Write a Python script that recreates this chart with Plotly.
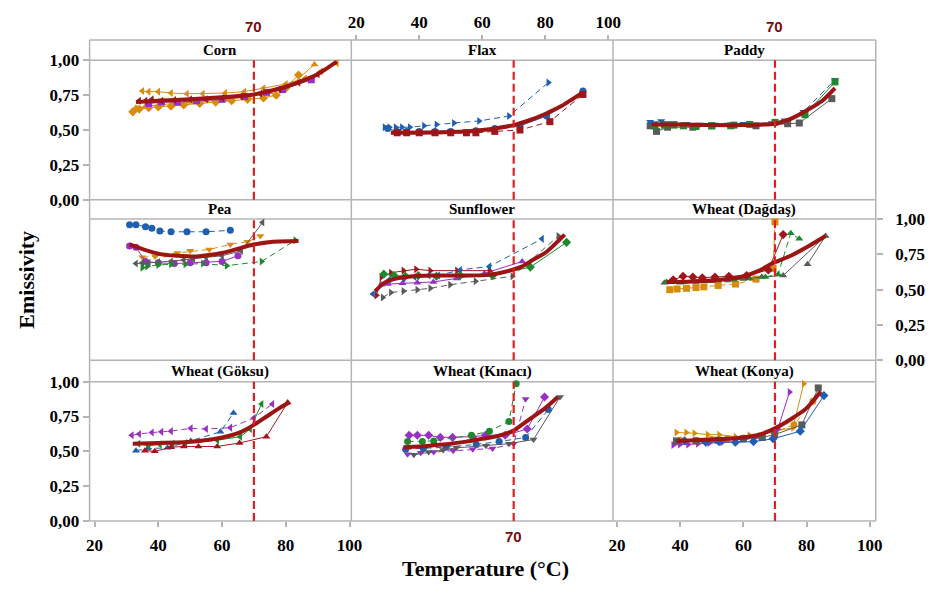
import plotly.graph_objects as go

W, H = 933, 593

# ---------------- data ----------------
REF_TEMP = 70
X_TICKS = [20, 40, 60, 80, 100]
X_TICK_TEXT = ["20", "40", "60", "80", "100"]
Y_TICKS = [0, 0.25, 0.5, 0.75, 1.0]
Y_TICK_TEXT = ["0,00", "0,25", "0,50", "0,75", "1,00"]
PANELS = ["Corn", "Flax", "Paddy", "Pea", "Sunflower", "Wheat (Dağdaş)",
          "Wheat (Göksu)", "Wheat (Kınacı)", "Wheat (Konya)"]

# Corn
CORN_A_X = [35, 37, 40, 44, 49, 54, 61, 67, 73, 80, 86, 91, 96]
CORN_A_Y = [0.78, 0.775, 0.775, 0.765, 0.76, 0.76, 0.765, 0.775, 0.80, 0.83, 0.87, 0.92, 0.98]
CORN_B_X = [32, 34, 37, 40, 44, 48, 53, 58, 63, 68, 73, 77, 80, 84]
CORN_B_Y = [0.63, 0.65, 0.66, 0.665, 0.67, 0.68, 0.69, 0.70, 0.71, 0.72, 0.73, 0.75, 0.80, 0.895]
CORN_C_X = [33, 36, 40, 45, 50, 55, 62, 68, 75, 82, 89]
CORN_C_Y = [0.66, 0.67, 0.68, 0.69, 0.70, 0.71, 0.72, 0.74, 0.77, 0.83, 0.97]
CORN_D_X = [34, 36, 38, 41, 45, 50, 55, 60, 66, 72, 78, 84, 90]
CORN_D_Y = [0.71, 0.71, 0.72, 0.71, 0.715, 0.72, 0.72, 0.73, 0.74, 0.76, 0.79, 0.84, 0.90]
CORN_E_X = [37, 41, 46, 52, 60, 67, 74, 79, 88]
CORN_E_Y = [0.69, 0.70, 0.70, 0.71, 0.72, 0.74, 0.77, 0.79, 0.86]
CORN_FIT_X = [33, 40, 50, 60, 70, 75, 80, 85, 90, 96]
CORN_FIT_Y = [0.70, 0.71, 0.72, 0.735, 0.755, 0.78, 0.81, 0.85, 0.90, 0.99]

# Flax
FLAX_A_X = [29, 30.5, 32.5, 34.5, 37, 41.5, 45.5, 51, 59, 68.5, 81]
FLAX_A_Y = [0.52, 0.52, 0.52, 0.52, 0.52, 0.53, 0.54, 0.55, 0.565, 0.60, 0.84]
FLAX_B_X = [30, 33, 36, 40, 45, 50, 58, 64, 72, 80.5, 92]
FLAX_B_Y = [0.51, 0.49, 0.49, 0.49, 0.49, 0.49, 0.495, 0.51, 0.53, 0.60, 0.78]
FLAX_C_X = [33, 36, 40, 45, 50, 55, 58, 64, 72, 81.5, 92]
FLAX_C_Y = [0.48, 0.48, 0.48, 0.48, 0.48, 0.48, 0.48, 0.49, 0.50, 0.56, 0.755]
FLAX_FIT_X = [31, 40, 50, 60, 65, 70, 75, 80, 85, 92]
FLAX_FIT_Y = [0.48, 0.48, 0.485, 0.50, 0.515, 0.535, 0.57, 0.615, 0.67, 0.77]

# Paddy
PADDY_A_X = [30.5, 32, 34, 36, 38, 42, 46, 51, 55, 60, 69, 73, 79, 89]
PADDY_A_Y = [0.56, 0.55, 0.565, 0.55, 0.55, 0.545, 0.54, 0.54, 0.54, 0.545, 0.55, 0.57, 0.63, 0.86]
PADDY_B_X = [32, 35, 38, 41, 45, 50, 56, 62, 70, 79.5, 89]
PADDY_B_Y = [0.53, 0.535, 0.535, 0.53, 0.525, 0.53, 0.53, 0.54, 0.555, 0.61, 0.845]
PADDY_C_X = [30.5, 32.5, 36, 44, 50, 57, 64, 74, 77.7, 88]
PADDY_C_Y = [0.53, 0.49, 0.52, 0.52, 0.53, 0.535, 0.53, 0.545, 0.55, 0.725]
PADDY_FIT_X = [31, 40, 50, 60, 70, 75, 80, 85, 89]
PADDY_FIT_Y = [0.54, 0.54, 0.535, 0.535, 0.545, 0.58, 0.64, 0.71, 0.80]

# Pea
PEA_A_X = [31, 33, 36, 38, 40.5, 44, 49, 55, 62.6]
PEA_A_Y = [0.96, 0.96, 0.945, 0.935, 0.915, 0.91, 0.91, 0.91, 0.92]
PEA_B_X = [35, 39, 42, 46, 50, 56, 62.6, 68, 72]
PEA_B_Y = [0.73, 0.735, 0.75, 0.76, 0.775, 0.785, 0.82, 0.84, 0.88]
PEA_C_X = [33, 35, 37, 40, 44, 48, 51, 55, 60, 66, 72.7]
PEA_C_Y = [0.685, 0.69, 0.69, 0.695, 0.70, 0.71, 0.72, 0.73, 0.74, 0.775, 0.975]
PEA_D_X = [31, 33, 36, 40, 45, 50, 55, 60, 65]
PEA_D_Y = [0.81, 0.80, 0.70, 0.69, 0.685, 0.69, 0.69, 0.70, 0.74]
PEA_E_X = [35, 36.5, 40, 44, 48.5, 54, 61.5, 72.4, 83]
PEA_E_Y = [0.655, 0.665, 0.675, 0.68, 0.68, 0.685, 0.67, 0.70, 0.85]
PEA_FIT_X = [31, 36, 41, 46, 52, 56, 60, 65, 69, 76, 84]
PEA_FIT_Y = [0.82, 0.78, 0.75, 0.74, 0.735, 0.745, 0.76, 0.79, 0.815, 0.84, 0.845]

# Sunflower
SUN_A_X = [26.4, 28, 31, 35, 39, 43.5, 52, 62.3]
SUN_A_Y = [0.46, 0.59, 0.62, 0.635, 0.645, 0.635, 0.635, 0.635]
SUN_B_X = [25.3, 30.5, 35, 38.5, 43, 46, 53, 62.3, 79]
SUN_B_Y = [0.47, 0.57, 0.58, 0.59, 0.60, 0.60, 0.64, 0.665, 0.86]
SUN_C_X = [28.75, 32, 35.6, 39.7, 45.5, 53, 63.3, 75.3, 86.8]
SUN_C_Y = [0.61, 0.60, 0.595, 0.60, 0.595, 0.60, 0.60, 0.66, 0.835]
SUN_D_X = [28, 30, 34.7, 39.4, 44.5, 51.9, 60.7, 72.7]
SUN_D_Y = [0.535, 0.54, 0.545, 0.55, 0.555, 0.58, 0.615, 0.70]
SUN_E_X = [28.4, 31, 35, 39.4, 43.5, 49.8, 57.9, 69.6, 84.2]
SUN_E_Y = [0.445, 0.48, 0.49, 0.50, 0.51, 0.535, 0.56, 0.595, 0.88]
SUN_FIT_X = [26, 29, 33, 38, 43.5, 53, 62.3, 67, 72.7, 76, 80, 83, 86.2]
SUN_FIT_Y = [0.49, 0.55, 0.58, 0.595, 0.60, 0.60, 0.605, 0.625, 0.665, 0.71, 0.76, 0.82, 0.89]

# Wheat (Dağdaş)
DAG_A_X = [37.8, 40.9, 44, 47, 51, 55.4, 61, 67.9, 72.6]
DAG_A_Y = [0.57, 0.595, 0.59, 0.585, 0.59, 0.595, 0.60, 0.64, 0.89]
DAG_B_X = [35.7, 38, 41, 44, 48, 52, 57, 62, 67, 71, 75, 77.7]
DAG_B_Y = [0.555, 0.56, 0.555, 0.56, 0.56, 0.565, 0.57, 0.58, 0.59, 0.61, 0.90, 0.86]
DAG_C_X = [36.7, 39, 42, 45, 47.5, 52, 57.5, 64, 69.4, 70]
DAG_C_Y = [0.50, 0.505, 0.51, 0.515, 0.52, 0.53, 0.54, 0.575, 0.65, 0.98]
DAG_D_X = [35, 40, 45, 50, 55, 60, 65.8, 72.6, 86, 80.3]
DAG_D_Y = [0.55, 0.55, 0.555, 0.56, 0.565, 0.575, 0.59, 0.60, 0.88, 0.68]
DAG_FIT_X = [35.7, 40, 45, 50, 55, 60, 65, 69, 75, 80, 86]
DAG_FIT_Y = [0.555, 0.555, 0.56, 0.565, 0.575, 0.595, 0.635, 0.685, 0.74, 0.80, 0.88]

# Wheat (Göksu)
GOK_A_X = [31.7, 34, 38, 41, 44, 50.2, 55, 62.6, 70, 75.8]
GOK_A_Y = [0.615, 0.625, 0.635, 0.64, 0.645, 0.665, 0.66, 0.67, 0.74, 0.84]
GOK_B_X = [33.8, 37, 40.5, 44.5, 48.5, 58.5, 65.7, 68.8, 72.4]
GOK_B_Y = [0.555, 0.54, 0.55, 0.555, 0.56, 0.58, 0.605, 0.66, 0.84]
GOK_C_X = [33, 36.7, 42.9, 50.2, 59.5, 63.6]
GOK_C_Y = [0.505, 0.52, 0.525, 0.575, 0.64, 0.775]
GOK_D_X = [35.8, 38.9, 44, 48, 52.6, 58.5, 65.5, 73.9, 80.6]
GOK_D_Y = [0.505, 0.50, 0.53, 0.535, 0.535, 0.535, 0.56, 0.605, 0.85]
GOK_FIT_X = [32, 40, 48, 53, 58, 62, 66, 70, 74, 78, 81]
GOK_FIT_Y = [0.555, 0.56, 0.565, 0.575, 0.59, 0.61, 0.64, 0.69, 0.75, 0.81, 0.85]

# Wheat (Kınacı)
KIN_A_X = [36.8, 39.4, 43, 46.7, 50.6, 57, 61, 67.3, 74.3, 79.8]
KIN_A_Y = [0.615, 0.615, 0.615, 0.60, 0.60, 0.605, 0.615, 0.615, 0.66, 0.89]
KIN_B_X = [36.3, 41, 44.6, 56.6, 62.3, 68.5, 70.8]
KIN_B_Y = [0.57, 0.57, 0.575, 0.615, 0.645, 0.715, 0.985]
KIN_C_X = [36.3, 40.5, 44.6, 50.8, 57, 63.3, 70, 73.8]
KIN_C_Y = [0.48, 0.49, 0.495, 0.505, 0.515, 0.52, 0.555, 0.875]
KIN_D_X = [35.7, 41.3, 48.5, 58.1, 65.4, 73.8, 81]
KIN_D_Y = [0.515, 0.52, 0.53, 0.55, 0.57, 0.60, 0.80]
KIN_E_X = [38.3, 43, 47.6, 51.8, 61.2, 68.5, 76.3, 84.7]
KIN_E_Y = [0.475, 0.495, 0.51, 0.525, 0.54, 0.555, 0.585, 0.89]
KIN_FIT_X = [35, 40, 45, 50, 55, 60, 65, 70, 75, 80, 84]
KIN_FIT_Y = [0.53, 0.535, 0.545, 0.555, 0.57, 0.59, 0.61, 0.65, 0.73, 0.81, 0.89]

# Wheat (Konya)
KON_A_X = [38.8, 41.9, 44.5, 48.7, 52.3, 57.5, 61.9, 69.9, 75.7, 79.1]
KON_A_Y = [0.635, 0.635, 0.63, 0.62, 0.62, 0.605, 0.615, 0.645, 0.67, 0.985]
KON_B_X = [37.8, 39.9, 42.5, 45.6, 49.2, 53.3, 57.5, 63.7, 70.9, 74.6]
KON_B_Y = [0.545, 0.55, 0.55, 0.555, 0.56, 0.565, 0.565, 0.60, 0.66, 0.925]
KON_C_X = [41.4, 48.1, 52.3, 57.5, 63.2, 69.4, 78, 85.5]
KON_C_Y = [0.575, 0.565, 0.57, 0.565, 0.57, 0.59, 0.645, 0.90]
KON_D_X = [38.8, 45, 52, 60, 66, 69.9, 78.5, 83.7]
KON_D_Y = [0.575, 0.575, 0.58, 0.59, 0.60, 0.62, 0.69, 0.955]
KON_E_X = [40, 45, 50, 55, 60, 65, 70, 76, 82]
KON_E_Y = [0.58, 0.58, 0.585, 0.59, 0.595, 0.61, 0.64, 0.69, 0.86]
KON_FIT_X = [38.8, 45, 50, 55, 60, 65, 70, 75, 80, 84.5]
KON_FIT_Y = [0.575, 0.58, 0.585, 0.59, 0.60, 0.62, 0.665, 0.73, 0.81, 0.93]

# ---------------- styles ----------------
BLUE = "#1f5fb0"
DRED = "#a0161c"
ORANGE = "#d98c0c"
PURPLE = "#9a2fc6"
GREY = "#5b5b5b"
GREEN = "#1c8a2c"
FITC = "#9c1414"
FRAME = "#b4b4b4"
DASHED = "6px,4px"

# (panel, x, y, color, symbol, dash)
SERIES = [
    (0, CORN_B_X, CORN_B_Y, ORANGE, "diamond", "solid"),
    (0, CORN_C_X, CORN_C_Y, ORANGE, "triangle-up", "solid"),
    (0, CORN_A_X, CORN_A_Y, ORANGE, "triangle-left", "solid"),
    (0, CORN_E_X, CORN_E_Y, PURPLE, "square", "solid"),
    (0, CORN_D_X, CORN_D_Y, DRED, "triangle-left", "solid"),
    (1, FLAX_A_X, FLAX_A_Y, BLUE, "triangle-right", DASHED),
    (1, FLAX_B_X, FLAX_B_Y, BLUE, "circle", "solid"),
    (1, FLAX_C_X, FLAX_C_Y, DRED, "square", DASHED),
    (2, PADDY_C_X, PADDY_C_Y, GREY, "square", "solid"),
    (2, PADDY_A_X, PADDY_A_Y, BLUE, "triangle-down", DASHED),
    (2, PADDY_B_X, PADDY_B_Y, GREEN, "square", "solid"),
    (3, PEA_A_X, PEA_A_Y, BLUE, "circle", DASHED),
    (3, PEA_B_X, PEA_B_Y, ORANGE, "triangle-down", DASHED),
    (3, PEA_D_X, PEA_D_Y, PURPLE, "circle", "solid"),
    (3, PEA_C_X, PEA_C_Y, GREY, "triangle-left", "solid"),
    (3, PEA_E_X, PEA_E_Y, GREEN, "triangle-right", DASHED),
    (4, SUN_E_X, SUN_E_Y, GREY, "triangle-right", DASHED),
    (4, SUN_D_X, SUN_D_Y, PURPLE, "triangle-up", "solid"),
    (4, SUN_A_X, SUN_A_Y, DRED, "triangle-right", "solid"),
    (4, SUN_B_X, SUN_B_Y, BLUE, "triangle-left", DASHED),
    (4, SUN_C_X, SUN_C_Y, GREEN, "diamond", "solid"),
    (5, DAG_C_X, DAG_C_Y, ORANGE, "square", DASHED),
    (5, DAG_D_X, DAG_D_Y, GREY, "triangle-up", "solid"),
    (5, DAG_B_X, DAG_B_Y, GREEN, "triangle-up", DASHED),
    (5, DAG_A_X, DAG_A_Y, DRED, "diamond", "solid"),
    (6, GOK_A_X, GOK_A_Y, PURPLE, "triangle-left", DASHED),
    (6, GOK_C_X, GOK_C_Y, BLUE, "triangle-up", DASHED),
    (6, GOK_B_X, GOK_B_Y, GREEN, "triangle-left", "solid"),
    (6, GOK_D_X, GOK_D_Y, DRED, "triangle-up", "solid"),
    (7, KIN_A_X, KIN_A_Y, PURPLE, "diamond", "solid"),
    (7, KIN_B_X, KIN_B_Y, GREEN, "circle", DASHED),
    (7, KIN_C_X, KIN_C_Y, PURPLE, "triangle-down", DASHED),
    (7, KIN_D_X, KIN_D_Y, BLUE, "circle", DASHED),
    (7, KIN_E_X, KIN_E_Y, GREY, "triangle-down", "solid"),
    (8, KON_E_X, KON_E_Y, ORANGE, "circle", DASHED),
    (8, KON_A_X, KON_A_Y, ORANGE, "triangle-right", "solid"),
    (8, KON_B_X, KON_B_Y, PURPLE, "triangle-right", "solid"),
    (8, KON_D_X, KON_D_Y, GREY, "square", "solid"),
    (8, KON_C_X, KON_C_Y, BLUE, "diamond", "solid"),
]
FITS = [
    (0, CORN_FIT_X, CORN_FIT_Y), (1, FLAX_FIT_X, FLAX_FIT_Y), (2, PADDY_FIT_X, PADDY_FIT_Y),
    (3, PEA_FIT_X, PEA_FIT_Y), (4, SUN_FIT_X, SUN_FIT_Y), (5, DAG_FIT_X, DAG_FIT_Y),
    (6, GOK_FIT_X, GOK_FIT_Y), (7, KIN_FIT_X, KIN_FIT_Y), (8, KON_FIT_X, KON_FIT_Y),
]

# ---------------- layout geometry (pixels) ----------------
COLS = [(87, 353), (353, 619), (619, 886)]
ROWS = [(53, 197), (217, 363), (385, 529)]        # plot areas
STRIPS = [(32, 53), (197, 217), (363, 385)]
XRANGES = [(18.46, 100.56), (18.44, 101.56), (18.75, 101.9)]
FRAME_TOP, FRAME_BOTTOM = 32, 529


def px(x):
    return x / W


def py(y):
    return 1 - y / H


def ax_suffix(i):
    return "" if i == 0 else str(i + 1)


fig = go.Figure()

for (p, xs, ys, col, sym, dash) in SERIES:
    s = ax_suffix(p)
    fig.add_trace(go.Scatter(
        x=xs, y=ys, mode="lines+markers", xaxis="x" + s, yaxis="y" + s,
        line=dict(color=col, width=1, dash=dash),
        marker=dict(color=col, symbol=sym, size=7),
        cliponaxis=False, showlegend=False, hoverinfo="skip"))

for (p, xs, ys) in FITS:
    s = ax_suffix(p)
    fig.add_trace(go.Scatter(
        x=xs, y=ys, mode="lines", xaxis="x" + s, yaxis="y" + s,
        line=dict(color=FITC, width=4, shape="spline", smoothing=0.6),
        cliponaxis=False, showlegend=False, hoverinfo="skip"))

tickfont = dict(family="Liberation Serif", size=17, color="black", weight="bold")
layout = dict(
    width=W, height=H, margin=dict(l=0, r=0, t=0, b=0),
    paper_bgcolor="white", plot_bgcolor="rgba(0,0,0,0)",
    showlegend=False,
)

shapes = []
annotations = []

for i in range(9):
    r, c = divmod(i, 3)
    s = ax_suffix(i)
    x0, x1 = COLS[c]
    y0, y1 = ROWS[r]
    xa = dict(domain=[px(x0), px(x1)], range=list(XRANGES[c]), anchor="y" + s,
              showgrid=False, zeroline=False, showline=False,
              tickvals=X_TICKS, ticktext=X_TICK_TEXT, tickfont=tickfont,
              ticks="", showticklabels=False, fixedrange=True)
    ya = dict(domain=[py(y1), py(y0)], range=[0, 1], anchor="x" + s,
              showgrid=False, zeroline=False, showline=False,
              tickvals=Y_TICKS, ticktext=Y_TICK_TEXT, tickfont=tickfont,
              ticks="", showticklabels=False, fixedrange=True)
    if i in (6, 8):
        xa.update(ticks="outside", ticklen=5, tickwidth=1.5, tickcolor=FRAME,
                  showticklabels=True, side="bottom", ticklabelstandoff=4)
    if i == 1:
        xa.update(ticks="outside", ticklen=5, tickwidth=1.5, tickcolor=FRAME,
                  showticklabels=True, side="top", anchor="free",
                  position=py(FRAME_TOP), ticklabelstandoff=0)
    if i in (0, 6):
        ya.update(ticks="outside", ticklen=6, tickwidth=1.5, tickcolor=FRAME,
                  showticklabels=True, side="left")
    if i == 5:
        ya.update(ticks="outside", ticklen=6, tickwidth=1.5, tickcolor=FRAME,
                  showticklabels=True, side="right", ticklabelstandoff=9)
    layout["xaxis" + s] = xa
    layout["yaxis" + s] = ya

    # reference line at 70 C
    shapes.append(dict(type="line", xref="x" + s, yref="y" + s + " domain",
                       x0=REF_TEMP, x1=REF_TEMP, y0=0, y1=1,
                       line=dict(color="#e01f22", width=2.2, dash="8px,4px")))
    # strip title
    annotations.append(dict(text=PANELS[i], xref="paper", yref="paper",
                            x=px((x0 + x1) / 2), y=py(sum(STRIPS[r]) / 2),
                            showarrow=False, xanchor="center", yanchor="middle",
                            font=dict(family="Liberation Serif", size=15,
                                      color="black", weight="bold")))

# "70" reference labels
ref_font = dict(family="Liberation Sans", size=15, color="#7a0c0c", weight="bold")
for p, ypix in ((0, 18), (2, 18), (7, 545)):
    s = ax_suffix(p)
    annotations.append(dict(text=str(REF_TEMP), xref="x" + s, yref="paper",
                            x=REF_TEMP, y=py(ypix), showarrow=False,
                            xanchor="center", yanchor="middle", font=ref_font))

# axis titles
annotations.append(dict(text="Emissivity", xref="paper", yref="paper",
                        x=px(22), y=py(280), textangle=-90, showarrow=False,
                        xanchor="center", yanchor="middle",
                        font=dict(family="Liberation Serif", size=22,
                                  color="black", weight="bold")))
annotations.append(dict(text="Temperature (°C)", xref="paper", yref="paper",
                        x=px(489), y=py(578), showarrow=False,
                        xanchor="center", yanchor="middle",
                        font=dict(family="Liberation Serif", size=22,
                                  color="black", weight="bold")))


# frame lines
def hline(y, xa=87, xb=886):
    shapes.append(dict(type="line", xref="paper", yref="paper",
                       x0=px(xa), x1=px(xb), y0=py(y), y1=py(y),
                       line=dict(color=FRAME, width=1.5), layer="below"))


def vline(x, ya=FRAME_TOP, yb=FRAME_BOTTOM):
    shapes.append(dict(type="line", xref="paper", yref="paper",
                       x0=px(x), x1=px(x), y0=py(ya), y1=py(yb),
                       line=dict(color=FRAME, width=1.5), layer="below"))


for yy in (FRAME_TOP, 53, 197, 217, 363, 385, FRAME_BOTTOM):
    hline(yy)
for xx in (87, 353, 619, 886):
    vline(xx)

layout["shapes"] = shapes
layout["annotations"] = annotations
fig.update_layout(**layout)

fig.write_html("out.html")
